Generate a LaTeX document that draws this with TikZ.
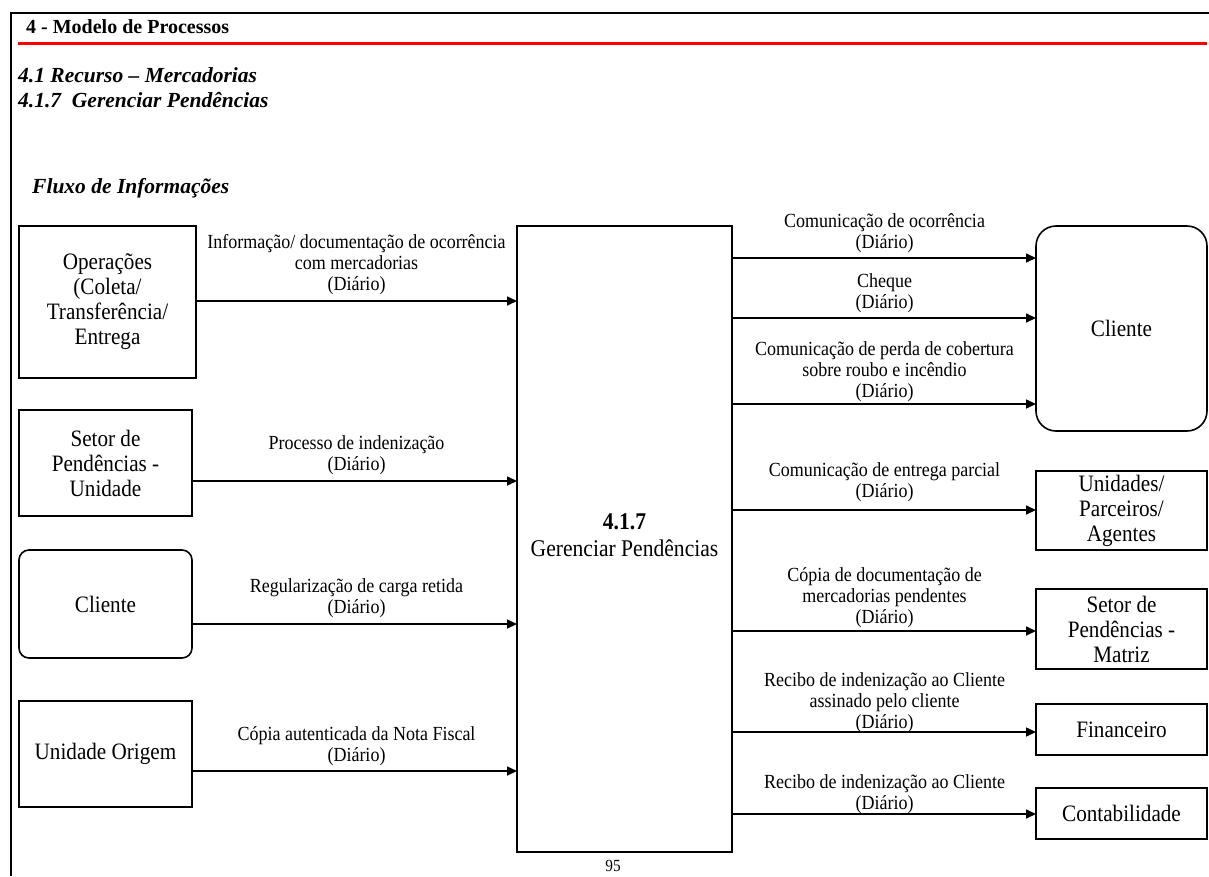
\documentclass[tikz,border=0pt]{standalone}
\usepackage{fontspec}
\setmainfont{Liberation Serif}[FakeStretch=0.9]
\newfontfamily\hdfont{Liberation Serif}
\usetikzlibrary{arrows.meta}
\tikzset{
  box/.style={draw, line width=1.6pt, inner sep=0pt, outer sep=0pt, align=center,
    font=\fontsize{23.5}{25}\selectfont},
  rbox/.style={box, rounded corners=#1},
  lbl/.style={inner sep=0pt, align=center, font=\fontsize{20}{21}\selectfont},
  arr/.style={line width=1.6pt, -{Triangle[length=10pt,width=9pt]}},
}
\begin{document}
\begin{tikzpicture}[x=1pt,y=-1pt]
\useasboundingbox (0,0) rectangle (1209,876);
\fill[white] (0,0) rectangle (1209,876);
% frame and header
\draw[line width=2.5pt] (11,876) -- (11,13) -- (1209,13);
\draw[red, line width=3pt] (18,43) -- (1207,43);
\node[anchor=west, inner sep=0pt, font=\hdfont\bfseries\fontsize{20}{24}\selectfont] (title) at (26,27) {4 - Modelo de Processos};
\node[anchor=west, inner sep=0pt, font=\hdfont\bfseries\itshape\fontsize{21.5}{25}\selectfont] (h1) at (18,75) {4.1 Recurso – Mercadorias};
\node[anchor=west, inner sep=0pt, font=\hdfont\bfseries\itshape\fontsize{21.5}{25}\selectfont] (h2) at (18,100) {4.1.7\ \ Gerenciar Pendências};
\node[anchor=west, inner sep=0pt, font=\hdfont\bfseries\itshape\fontsize{21.5}{24}\selectfont] (h3) at (32,188) {Fluxo de Informações};
% left boxes
\node[box, minimum width=177pt, minimum height=152pt] (op) at (107.5,302) {Operações\\(Coleta/\\Transferência/\\Entrega};
\node[box, minimum width=173pt, minimum height=106pt] (set) at (105.5,463) {Setor de\\Pendências -\\Unidade};
\node[rbox=10pt, minimum width=173pt, minimum height=108pt] (cli) at (105.5,604) {Cliente};
\node[box, minimum width=173pt, minimum height=106pt] (uo) at (105.5,754) {Unidade Origem};
% central process
\node[box, minimum width=215pt, minimum height=626pt] (proc) at (624.5,539) {};
\node[inner sep=0pt, align=center, font=\fontsize{24}{27}\selectfont] (proctxt) at (624.5,535.5) {\textbf{4.1.7}\\Gerenciar Pendências};
% right boxes
\node[rbox=20pt, minimum width=171pt, minimum height=205pt] (rcli) at (1121.5,328.5) {Cliente};
\node[box, minimum width=171pt, minimum height=79pt] (unid) at (1121.5,510.5) {Unidades/\\Parceiros/\\Agentes};
\node[box, minimum width=171pt, minimum height=80pt] (smat) at (1121.5,629) {Setor de\\Pendências -\\Matriz};
\node[box, minimum width=171pt, minimum height=51pt] (fin) at (1121.5,729.5) {Financeiro};
\node[box, minimum width=171pt, minimum height=51pt] (cont) at (1121.5,813.5) {Contabilidade};
% arrow levels
\coordinate (a1) at (0,301);
\coordinate (a2) at (0,481);
\coordinate (a3) at (0,624);
\coordinate (a4) at (0,771);
\coordinate (b1) at (0,258);
\coordinate (b2) at (0,318);
\coordinate (b3) at (0,404);
\coordinate (b4) at (0,510);
\coordinate (b5) at (0,631);
\coordinate (b6) at (0,732);
\coordinate (b7) at (0,814);
% left arrows
\draw[arr] (op.east |- a1) -- (proc.west |- a1);
\draw[arr] (set.east |- a2) -- (proc.west |- a2);
\draw[arr] (cli.east |- a3) -- (proc.west |- a3);
\draw[arr] (uo.east |- a4) -- (proc.west |- a4);
% right arrows
\draw[arr] (proc.east |- b1) -- (rcli.west |- b1);
\draw[arr] (proc.east |- b2) -- (rcli.west |- b2);
\draw[arr] (proc.east |- b3) -- (rcli.west |- b3);
\draw[arr] (proc.east |- b4) -- (unid.west |- b4);
\draw[arr] (proc.east |- b5) -- (smat.west |- b5);
\draw[arr] (proc.east |- b6) -- (fin.west |- b6);
\draw[arr] (proc.east |- b7) -- (cont.west |- b7);
% left labels
\node[lbl] (l1) at (356.5,265) {Informação/ documentação de ocorrência\\com mercadorias\\(Diário)};
\node[lbl] (l2) at (356.5,455.5) {Processo de indenização\\(Diário)};
\node[lbl] (l3) at (356.5,598) {Regularização de carga retida\\(Diário)};
\node[lbl] (l4) at (356.5,746.5) {Cópia autenticada da Nota Fiscal\\(Diário)};
% right labels
\node[lbl] (r1) at (884.5,233) {Comunicação de ocorrência\\(Diário)};
\node[lbl] (r2) at (884.5,293.5) {Cheque\\(Diário)};
\node[lbl] (r3) at (884.5,372) {Comunicação de perda de cobertura\\sobre roubo e incêndio\\(Diário)};
\node[lbl] (r4) at (884.5,482) {Comunicação de entrega parcial\\(Diário)};
\node[lbl] (r5) at (884.5,598) {Cópia de documentação de\\mercadorias pendentes\\(Diário)};
\node[lbl] (r6) at (884.5,702.5) {Recibo de indenização ao Cliente\\assinado pelo cliente\\(Diário)};
\node[lbl] (r7) at (884.5,794.5) {Recibo de indenização ao Cliente\\(Diário)};
% page number
\node[inner sep=0pt, font=\fontsize{17}{18}\selectfont] (pg) at (613,866) {95};
\end{tikzpicture}
\end{document}
